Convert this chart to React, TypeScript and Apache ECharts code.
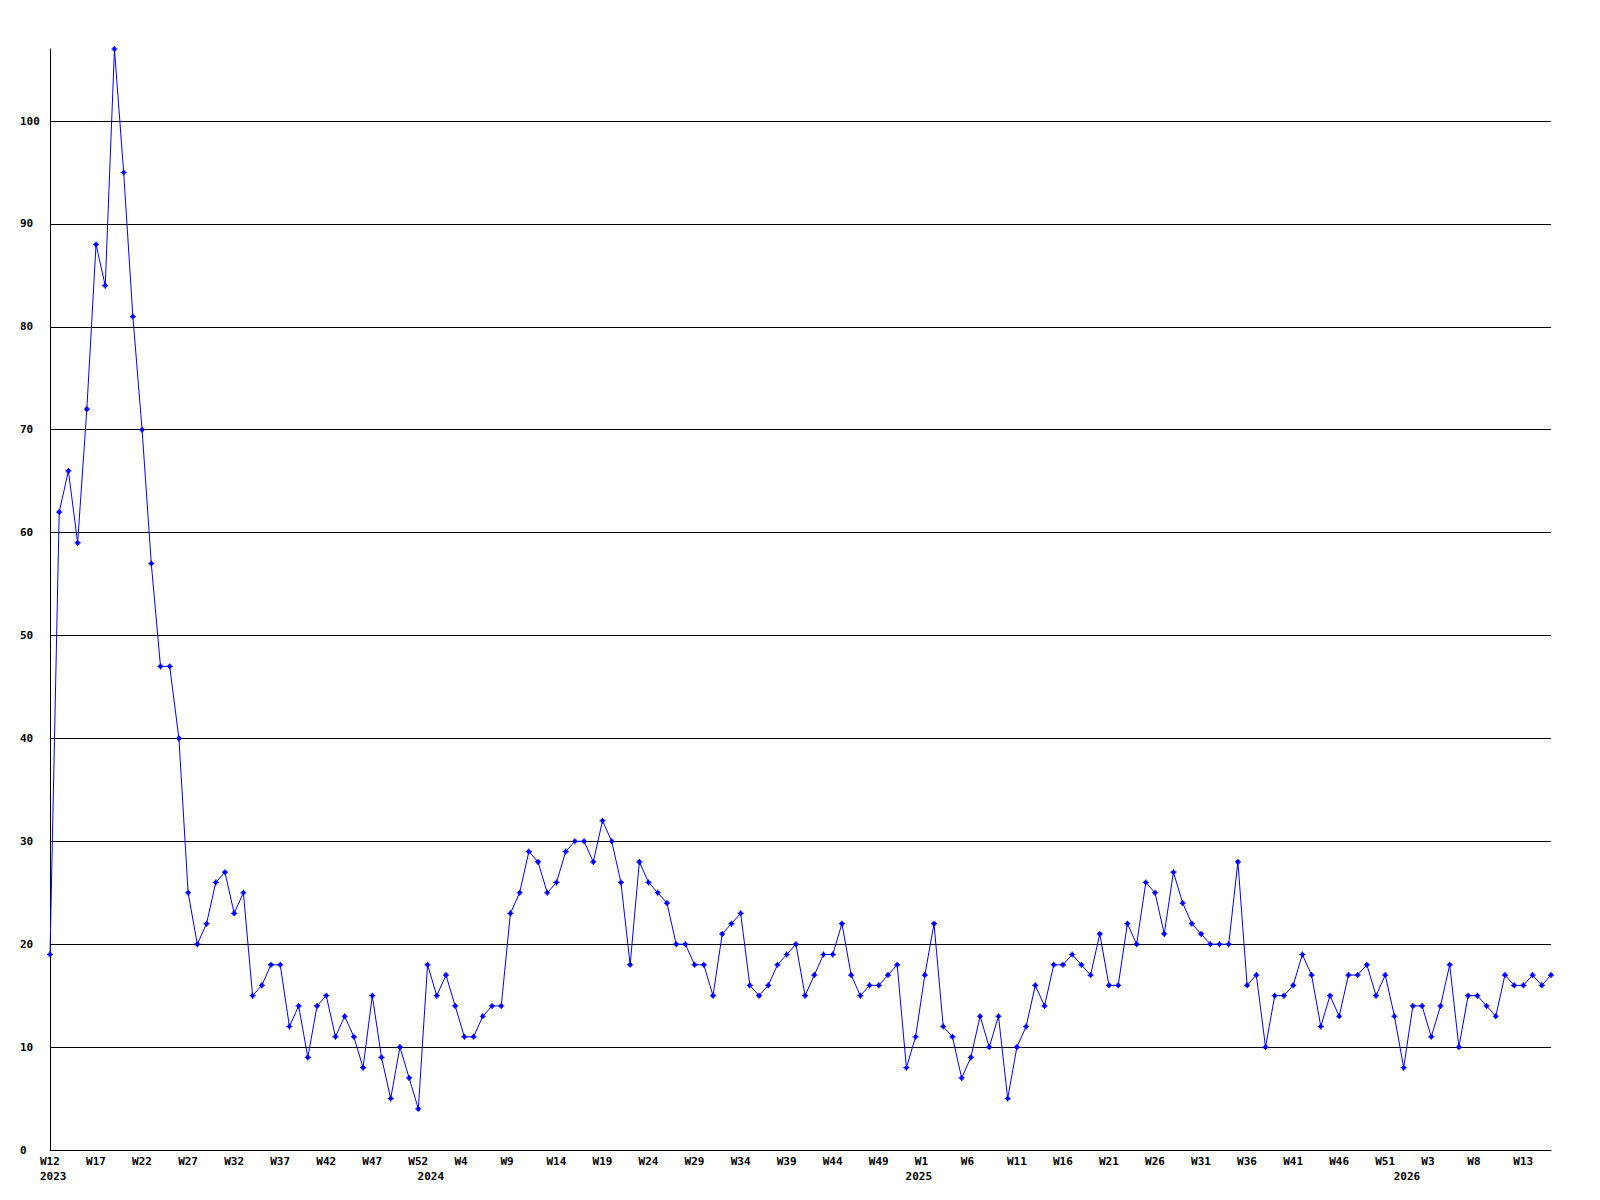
import React, { useEffect, useRef } from "react";
import * as echarts from "echarts";

// Year segments of the weekly series (week numbering as shown on the axis)
const years = [2023, 2024, 2025, 2026];
const firstWeeks = [12, 0, 0, 0];

const values2023 = [19, 62, 66, 59, 72, 88, 84, 107, 95, 81, 70, 57, 47, 47, 40, 25, 20, 22, 26, 27, 23, 25, 15, 16, 18, 18, 12, 14, 9, 14, 15, 11, 13, 11, 8, 15, 9, 5, 10, 7, 4];
const values2024 = [18, 15, 17, 14, 11, 11, 13, 14, 14, 23, 25, 29, 28, 25, 26, 29, 30, 30, 28, 32, 30, 26, 18, 28, 26, 25, 24, 20, 20, 18, 18, 15, 21, 22, 23, 16, 15, 16, 18, 19, 20, 15, 17, 19, 19, 22, 17, 15, 16, 16, 17, 18, 8];
const values2025 = [11, 17, 22, 12, 11, 7, 9, 13, 10, 13, 5, 10, 12, 16, 14, 18, 18, 19, 18, 17, 21, 16, 16, 22, 20, 26, 25, 21, 27, 24, 22, 21, 20, 20, 20, 28, 16, 17, 10, 15, 15, 16, 19, 17, 12, 15, 13, 17, 17, 18, 15, 17, 13];
const values2026 = [8, 14, 14, 11, 14, 18, 10, 15, 15, 14, 13, 17, 16, 16, 17, 16, 17];

const valuesByYear = [values2023, values2024, values2025, values2026];

const categories: string[] = [];
const values: number[] = [];
const yearStarts = new Set<number>();
valuesByYear.forEach((arr, yi) => {
  yearStarts.add(categories.length);
  arr.forEach((v, i) => {
    categories.push(`${years[yi]}-W${firstWeeks[yi] + i}`);
    values.push(v);
  });
});

const FONT = "'DejaVu Sans Mono', 'Liberation Mono', monospace";
const labelStyle = {
  color: "#000",
  fontFamily: FONT,
  fontWeight: "bold" as const,
  fontSize: 11,
};

const PLUS = "path://M2,0H3V1H4V2H5V3H4V4H3V5H2V4H1V3H0V2H1V1H2Z";

export default function App() {
  const ref = useRef<HTMLDivElement>(null);
  useEffect(() => {
    if (!ref.current) return;
    const chart = echarts.init(ref.current, undefined, { renderer: "svg" });
    chart.setOption({
      animation: false,
      backgroundColor: "#fff",
      grid: { left: 50, right: 49, top: 49, bottom: 50, containLabel: false },
      xAxis: [
        {
          type: "category",
          data: categories,
          boundaryGap: false,
          position: "bottom",
          axisLine: { show: true, lineStyle: { color: "#000", width: 1 } },
          axisTick: { show: false },
          splitLine: { show: false },
          axisLabel: {
            ...labelStyle,
            interval: 4,
            margin: 6,
            align: "left",
            padding: [0, 0, 0, -10],
            formatter: (v: string) => v.split("-")[1],
          },
        },
        {
          type: "category",
          data: categories,
          boundaryGap: false,
          position: "bottom",
          offset: 15,
          axisLine: { show: false },
          axisTick: { show: false },
          splitLine: { show: false },
          axisLabel: {
            ...labelStyle,
            interval: (i: number) => yearStarts.has(i),
            margin: 6,
            align: "left",
            padding: [0, 0, 0, -10],
            formatter: (v: string) => v.split("-")[0],
          },
        },
      ],
      yAxis: {
        type: "value",
        min: 0,
        max: "dataMax",
        interval: 10,
        axisLine: { show: true, lineStyle: { color: "#000", width: 1 } },
        axisTick: { show: false },
        splitLine: {
          show: true,
          showMaxLine: false,
          lineStyle: { color: "#000", width: 1 },
        },
        axisLabel: {
          ...labelStyle,
          align: "left",
          margin: 30,
          showMaxLabel: false,
        },
      },
      series: [
        {
          type: "line",
          xAxisIndex: 0,
          data: values,
          symbol: PLUS,
          symbolSize: 6,
          showSymbol: true,
          showAllSymbol: true,
          lineStyle: { color: "#0000ff", width: 1 },
          itemStyle: { color: "#0000ff" },
        },
      ],
    });
    return () => chart.dispose();
  }, []);
  return (
    <div
      ref={ref}
      style={{ position: "fixed", left: 0, top: 0, width: 1600, height: 1200, background: "#fff" }}
    />
  );
}
